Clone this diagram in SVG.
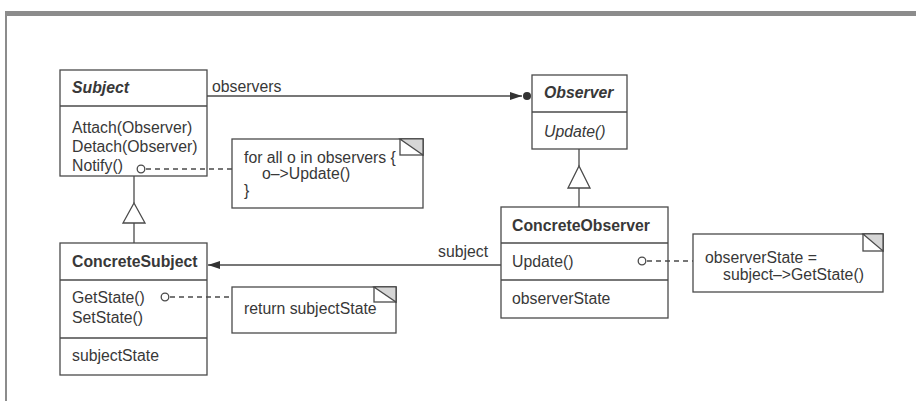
<svg xmlns="http://www.w3.org/2000/svg" width="916" height="401" viewBox="0 0 916 401">
  <style>
    .box { fill: #fff; stroke: #4a4a4a; stroke-width: 1.3; }
    .sep { stroke: #4a4a4a; stroke-width: 1.3; }
    .line { stroke: #4a4a4a; stroke-width: 1.3; fill: none; }
    .dash { stroke: #4a4a4a; stroke-width: 1.3; fill: none; stroke-dasharray: 5 4; }
    .hollow { fill: #fff; stroke: #4a4a4a; stroke-width: 1.3; }
    .ear { fill: #d6d6d6; stroke: #4a4a4a; stroke-width: 1.2; }
    text { font-family: "Liberation Sans", Arial, sans-serif; font-size: 15.8px; fill: #383838; }
    .title { font-weight: bold; }
    .abstract { font-style: italic; }
  </style>
  <defs>
    <marker id="filled" viewBox="0 0 12 8" refX="12" refY="4" markerWidth="12" markerHeight="8" markerUnits="userSpaceOnUse" orient="auto">
      <path d="M0,0 L12,4 L0,8 Z" fill="#333"/>
    </marker>
  </defs>

  <rect width="916" height="401" fill="#fff"/>
  <!-- page frame -->
  <rect x="5" y="11" width="911" height="5" fill="#8c8c8c"/>
  <rect x="5" y="11" width="2" height="390" fill="#8c8c8c"/>

  <g id="subject">
    <rect class="box" x="60" y="70" width="147" height="106"/>
    <line class="sep" x1="60" y1="106" x2="207" y2="106"/>
    <text class="title abstract" x="72" y="93">Subject</text>
    <text x="72" y="133">Attach(Observer)</text>
    <text x="72" y="152">Detach(Observer)</text>
    <text x="72" y="171">Notify()</text>
  </g>

  <g id="observer">
    <rect class="box" x="532" y="75" width="95" height="74"/>
    <line class="sep" x1="532" y1="112" x2="627" y2="112"/>
    <text class="title abstract" x="544" y="98">Observer</text>
    <text class="abstract" x="544" y="137">Update()</text>
  </g>

  <g id="concrete-subject">
    <rect class="box" x="60" y="243" width="147" height="132"/>
    <line class="sep" x1="60" y1="280" x2="207" y2="280"/>
    <line class="sep" x1="60" y1="338" x2="207" y2="338"/>
    <text class="title" x="72" y="267">ConcreteSubject</text>
    <text x="72" y="303">GetState()</text>
    <text x="72" y="323">SetState()</text>
    <text x="72" y="361">subjectState</text>
  </g>

  <g id="concrete-observer">
    <rect class="box" x="501" y="207" width="167" height="111"/>
    <line class="sep" x1="501" y1="243" x2="668" y2="243"/>
    <line class="sep" x1="501" y1="280" x2="668" y2="280"/>
    <text class="title" x="512" y="231">ConcreteObserver</text>
    <text x="512" y="267">Update()</text>
    <text x="512" y="304">observerState</text>
  </g>

  <g id="label-observers">
    <text x="212" y="92">observers</text>
  </g>
  <g id="label-subject">
    <text x="438" y="257">subject</text>
  </g>

  <g id="note-notify">
    <rect class="box" x="232" y="139" width="191" height="69"/>
    <rect class="box" x="400" y="139" width="23" height="16"/>
    <polygon class="ear" points="400,139 423,139 423,155"/>
    <text x="244" y="163">for all o in observers {</text>
    <text x="262" y="179">o–&gt;Update()</text>
    <text x="244" y="196">}</text>
  </g>

  <g id="note-getstate">
    <rect class="box" x="232" y="287" width="164" height="46"/>
    <rect class="box" x="374" y="287" width="22" height="15"/>
    <polygon class="ear" points="374,287 396,287 396,302"/>
    <text x="244" y="314">return subjectState</text>
  </g>

  <g id="note-update">
    <rect class="box" x="693" y="234" width="190" height="58"/>
    <rect class="box" x="863" y="234" width="20" height="17"/>
    <polygon class="ear" points="863,234 883,234 883,251"/>
    <text x="705" y="263">observerState =</text>
    <text x="723" y="280">subject–&gt;GetState()</text>
  </g>

  <g id="connectors">
    <!-- observers association -->
    <line class="line" x1="207" y1="96" x2="522" y2="96" marker-end="url(#filled)"/>
    <circle cx="527" cy="96" r="4" fill="#333"/>
    <!-- subject association -->
    <line class="line" x1="501" y1="265" x2="208" y2="265" marker-end="url(#filled)"/>
    <!-- Subject generalization -->
    <line class="line" x1="134" y1="176" x2="134" y2="203"/>
    <polygon class="hollow" points="134,203 123,223 145,223"/>
    <line class="line" x1="134" y1="223" x2="134" y2="243"/>
    <!-- Observer generalization -->
    <line class="line" x1="579" y1="149" x2="579" y2="166"/>
    <polygon class="hollow" points="579,166 568,188 590,188"/>
    <line class="line" x1="579" y1="188" x2="579" y2="207"/>
    <!-- note links -->
    <circle class="hollow" cx="141" cy="169" r="3.8"/>
    <line class="dash" x1="146" y1="169" x2="232" y2="169"/>
    <circle class="hollow" cx="165" cy="297" r="3.8"/>
    <line class="dash" x1="170" y1="297" x2="232" y2="297"/>
    <circle class="hollow" cx="642" cy="261" r="3.8"/>
    <line class="dash" x1="647" y1="261" x2="693" y2="261"/>
  </g>
</svg>
